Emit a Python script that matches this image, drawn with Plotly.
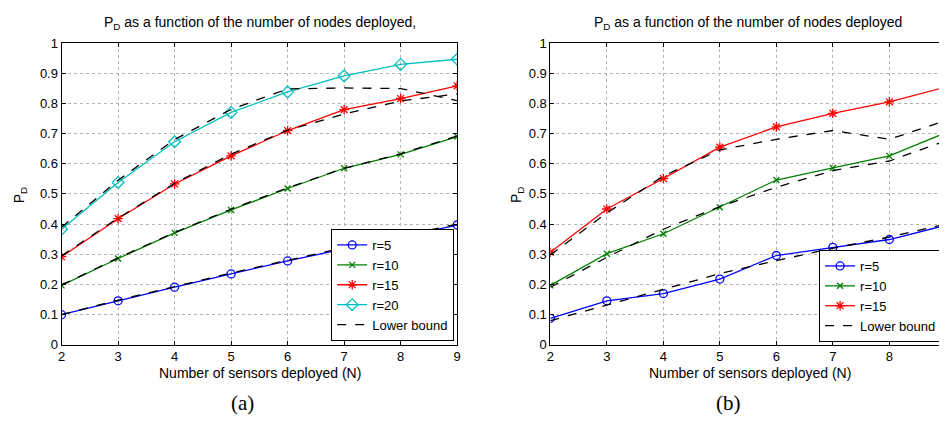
import plotly.graph_objs as go

# N values
nodes = [2, 3, 4, 5, 6, 7, 8, 9]

# (a) simulated P_D per sensing radius
a_r5 = [0.100, 0.146, 0.191, 0.235, 0.278, 0.318, 0.357, 0.397]
a_r10 = [0.197, 0.286, 0.371, 0.447, 0.518, 0.585, 0.631, 0.690]
a_r15 = [0.292, 0.418, 0.533, 0.626, 0.710, 0.779, 0.816, 0.858]
a_r20 = [0.383, 0.538, 0.673, 0.770, 0.838, 0.891, 0.929, 0.946]
# (a) lower bounds
a_lb5 = [0.100, 0.148, 0.193, 0.238, 0.280, 0.322, 0.360, 0.400]
a_lb10 = [0.198, 0.288, 0.372, 0.450, 0.520, 0.585, 0.633, 0.692]
a_lb15 = [0.295, 0.420, 0.535, 0.632, 0.711, 0.765, 0.808, 0.831]
a_lb20 = [0.390, 0.545, 0.680, 0.780, 0.848, 0.851, 0.849, 0.809]

# (b) simulated P_D per sensing radius
b_r5 = [0.088, 0.146, 0.170, 0.218, 0.296, 0.323, 0.349, 0.396]
b_r10 = [0.197, 0.302, 0.368, 0.456, 0.546, 0.586, 0.626, 0.703]
b_r15 = [0.307, 0.450, 0.551, 0.655, 0.722, 0.767, 0.805, 0.854]
# (b) lower bounds
b_lb5 = [0.080, 0.132, 0.184, 0.236, 0.279, 0.320, 0.357, 0.400]
b_lb10 = [0.191, 0.290, 0.383, 0.458, 0.522, 0.577, 0.609, 0.676]
b_lb15 = [0.298, 0.437, 0.559, 0.646, 0.681, 0.710, 0.681, 0.743]

x_ticks = [2, 3, 4, 5, 6, 7, 8, 9]
y_ticks = [0, 0.1, 0.2, 0.3, 0.4, 0.5, 0.6, 0.7, 0.8, 0.9, 1]
y_tick_text = ["0", "0.1", "0.2", "0.3", "0.4", "0.5", "0.6", "0.7", "0.8", "0.9", "1"]

BLUE = "#0000ff"
GREEN = "#008000"
RED = "#ff0000"
CYAN = "#00bfbf"
FONT = "Liberation Sans, Arial, sans-serif"

# page body has an 8px margin, so the figure is 8px smaller and positions are shifted
W, H, OFF = 939, 423, 8


def px(x):
    return (x - OFF) / W


def py(y):
    return 1 - (y - OFF) / H


styles = {
    "r=5": (BLUE, "circle-open", 8),
    "r=10": (GREEN, "x-thin-open", 6),
    "r=15": (RED, "asterisk-open", 8),
    "r=20": (CYAN, "diamond-open", 9),
}

fig = go.Figure()


def add_sim(name, y, xa, ya, legend):
    color, symbol, size = styles[name]
    fig.add_trace(go.Scatter(
        x=nodes, y=y, name=name, mode="lines+markers",
        line=dict(color=color, width=1.3),
        marker=dict(symbol=symbol, size=size, color=color, line=dict(color=color, width=1.3)),
        xaxis=xa, yaxis=ya, legend=legend,
    ))


def add_bound(y, xa, ya, legend, show):
    fig.add_trace(go.Scatter(
        x=nodes, y=y, name="Lower bound", mode="lines",
        line=dict(color="black", width=1.3, dash="dash"),
        xaxis=xa, yaxis=ya, legend=legend, showlegend=show,
    ))


# panel (a)
for name, y in [("r=5", a_r5), ("r=10", a_r10), ("r=15", a_r15), ("r=20", a_r20)]:
    add_sim(name, y, "x", "y", "legend")
for i, y in enumerate([a_lb5, a_lb10, a_lb15, a_lb20]):
    add_bound(y, "x", "y", "legend", i == 0)

# panel (b)
for name, y in [("r=5", b_r5), ("r=10", b_r10), ("r=15", b_r15)]:
    add_sim(name, y, "x2", "y2", "legend2")
for i, y in enumerate([b_lb5, b_lb10, b_lb15]):
    add_bound(y, "x2", "y2", "legend2", i == 0)

axis_common = dict(
    showline=True, linecolor="black", linewidth=1, mirror="allticks",
    ticks="inside", ticklen=4, tickcolor="black",
    showgrid=True, gridcolor="#b5b5b5", griddash="dot", gridwidth=1,
    zeroline=False, tickfont=dict(family=FONT, size=13, color="black"),
)

y_dom = [py(350), py(37)]

fig.update_layout(
    width=W, height=H,
    margin=dict(l=0, r=0, t=0, b=0),
    paper_bgcolor="white", plot_bgcolor="white",
    font=dict(family=FONT, color="black"),
    xaxis=dict(domain=[px(58), px(457)], range=[2, 9], tickvals=x_ticks, anchor="y",
               ticklabelstandoff=0, **axis_common),
    yaxis=dict(domain=y_dom, range=[0, 1], tickvals=y_ticks, ticktext=y_tick_text, anchor="x", **axis_common),
    xaxis2=dict(domain=[px(551), 1.0], range=[2, 8.95], tickvals=x_ticks, anchor="y2",
                ticklabelstandoff=0, **axis_common),
    yaxis2=dict(domain=y_dom, range=[0, 1], tickvals=y_ticks, ticktext=y_tick_text, anchor="x2", **axis_common),
    legend=dict(
        x=px(454), y=py(346), xanchor="right", yanchor="bottom",
        bgcolor="white", bordercolor="black", borderwidth=1,
        font=dict(family=FONT, size=13), tracegroupgap=0,
    ),
    legend2=dict(
        x=0.999, y=py(347), xanchor="right", yanchor="bottom",
        bgcolor="white", bordercolor="black", borderwidth=1,
        font=dict(family=FONT, size=13), tracegroupgap=0,
    ),
    showlegend=True,
)

ann = [
    # titles
    dict(x=px(258), y=py(16), text="P<sub>D</sub> as a function of the number of nodes deployed,",
         font=dict(size=14)),
    dict(x=px(750), y=py(16), text="P<sub>D</sub> as a function of the number of nodes deployed",
         font=dict(size=14)),
    # x titles
    dict(x=px(258), y=py(379), text="Number of sensors deployed (N)", font=dict(size=14)),
    dict(x=px(752), y=py(379), text="Number of sensors deployed (N)", font=dict(size=14)),
    # y titles
    dict(x=px(16), y=py(195), text="P<sub>D</sub>", textangle=-90, font=dict(size=14)),
    dict(x=px(518), y=py(195), text="P<sub>D</sub>", textangle=-90, font=dict(size=14)),
    # panel captions
    dict(x=px(240), y=py(410), text="(a)", font=dict(family="Liberation Serif, Times New Roman, serif", size=21)),
    dict(x=px(731), y=py(410), text="(b)", font=dict(family="Liberation Serif, Times New Roman, serif", size=21)),
]
for a in ann:
    a.update(xref="paper", yref="paper", showarrow=False, xanchor="center", yanchor="middle")
    fig.add_annotation(**a)

fig.write_html("out.html")
